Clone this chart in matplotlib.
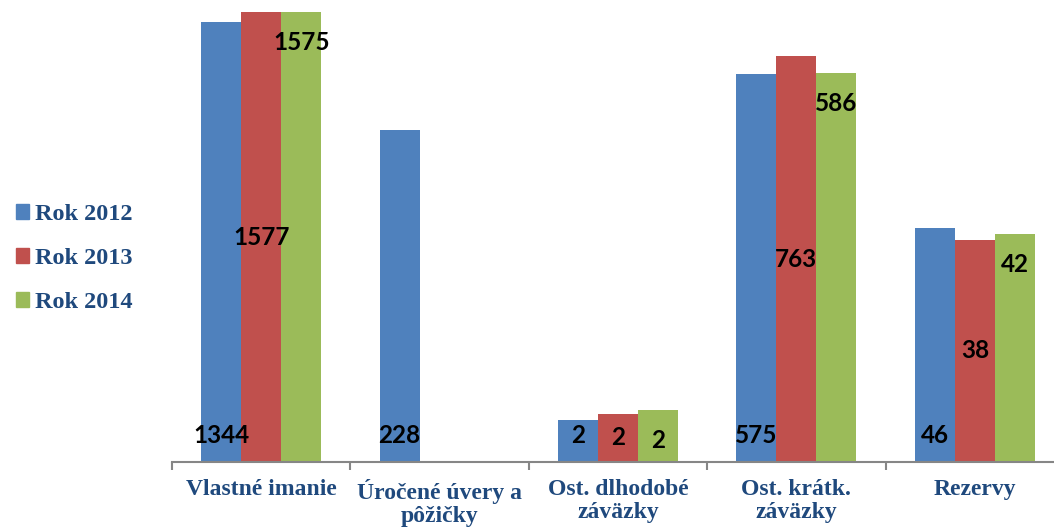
import matplotlib.pyplot as plt
import numpy as np

categories = ["Vlastné imanie", "Úročené úvery a\npôžičky", "Ost. dlhodobé\nzáväzky",
              "Ost. krátk.\nzáväzky", "Rezervy"]
series_names = ["Rok 2012", "Rok 2013", "Rok 2014"]
rok_2012 = [1344, 228, 2.0, 575, 46]
rok_2013 = [1577, np.nan, 2.2, 763, 38]
rok_2014 = [1575, np.nan, 2.35, 586, 42]

colors = ["#4F81BD", "#C0504D", "#9BBB59"]
text_blue = "#1F497D"
label_font = "Lato"
cat_font = "Liberation Serif"

fig = plt.figure(figsize=(10.54, 5.28), dpi=100)
ax = fig.add_axes([172 / 1054, 66 / 528, 892 / 1054, 462 / 528])

x = np.arange(len(categories))
w = 0.224
series = [rok_2012, rok_2013, rok_2014]
handles = []
for i, vals in enumerate(series):
    off = (i - 1) * w
    for j, v in enumerate(vals):
        if np.isnan(v):
            continue
        ax.bar(x[j] + off, v - 1, width=w, bottom=1, color=colors[i], linewidth=0)
        txt = str(int(round(v)))
        if i == 0:
            # inside base
            ax.annotate(txt, (x[j] + off, 1), xytext=(0, 19), textcoords="offset points",
                        ha="center", va="center", fontsize=17.5, fontweight="bold",
                        family=label_font, color="black")
        elif i == 1:
            # centre of the bar (log scale)
            ax.annotate(txt, (x[j] + off, np.sqrt(v)), ha="center", va="center",
                        fontsize=17.5, fontweight="bold", family=label_font, color="black")
        else:
            # inside end
            ax.annotate(txt, (x[j] + off, v), xytext=(0, -22), textcoords="offset points",
                        ha="center", va="center", fontsize=17.5, fontweight="bold",
                        family=label_font, color="black")
    handles.append(plt.Rectangle((0, 0), 1, 1, color=colors[i]))

ax.set_yscale("log")
ax.set_ylim(1, 1922)
ax.set_xlim(-0.5, len(categories) - 0.5)
ax.set_yticks([])
ax.minorticks_off()
ax.tick_params(axis="y", which="both", left=False, labelleft=False)

for s in ["left", "top", "right"]:
    ax.spines[s].set_visible(False)
ax.spines["bottom"].set_color("#868686")
ax.spines["bottom"].set_linewidth(1.5)

ax.set_xticks(x)
ax.set_xticklabels(categories, fontsize=17, fontweight="bold", family=cat_font,
                   color=text_blue, linespacing=1.15)
ax.tick_params(axis="x", which="major", length=0, pad=12)
ax.set_xticks(np.arange(len(categories) + 1) - 0.5, minor=True)
ax.tick_params(axis="x", which="minor", length=6, width=1.5, color="#868686")

fig.legend(handles, series_names, loc="center left", bbox_to_anchor=(-0.006, 0.51),
           frameon=False, prop={"family": cat_font, "weight": "bold", "size": 17.5},
           labelcolor=text_blue, handlelength=0.55, handleheight=0.55,
           handletextpad=0.25, labelspacing=0.95)

fig.savefig("out.png", dpi=100)
